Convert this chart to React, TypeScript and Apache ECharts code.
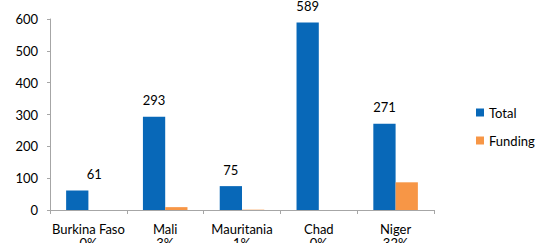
import React, { useEffect, useRef } from "react";
import * as echarts from "echarts";

const categories = ["Burkina Faso", "Mali", "Mauritania", "Chad", "Niger"];
const percentLabels = ["0%", "3%", "1%", "0%", "32%"];
const totalValues = [61, 293, 75, 589, 271];
const fundingValues = [0, 9, 1, 0, 87];
const yTicks = [0, 100, 200, 300, 400, 500, 600];

const FONT = "Lato, 'Liberation Sans', sans-serif";

export default function App() {
  const ref = useRef<HTMLDivElement>(null);
  useEffect(() => {
    document.body.style.margin = "0";
    const chart = echarts.init(ref.current!, null, { renderer: "svg" });
    chart.setOption({
      animation: false,
      textStyle: { fontFamily: FONT },
      grid: {
        left: 50,
        right: 103,
        top: 19,
        bottom: 33,
        containLabel: false,
        outerBoundsMode: "none",
      },
      legend: {
        orient: "vertical",
        left: 471,
        top: 101,
        itemWidth: 8,
        itemHeight: 8,
        itemGap: 15,
        icon: "rect",
        textStyle: { fontFamily: FONT, fontSize: 13, color: "#000" },
        data: ["Total", "Funding"],
      },
      xAxis: {
        type: "category",
        data: categories.map((c, i) => c + "\n" + percentLabels[i]),
        axisLine: { lineStyle: { color: "#A6A6A6", width: 1 } },
        axisTick: { show: true, length: 4, lineStyle: { color: "#A6A6A6" } },
        axisLabel: {
          interval: 0,
          margin: 12,
          fontSize: 13,
          lineHeight: 14,
          color: "#000",
          fontFamily: FONT,
        },
      },
      yAxis: {
        type: "value",
        min: yTicks[0],
        max: yTicks[yTicks.length - 1],
        interval: 100,
        splitLine: { show: false },
        axisLine: { show: true, lineStyle: { color: "#A6A6A6", width: 1 } },
        axisTick: { show: true, length: 3, lineStyle: { color: "#A6A6A6" } },
        axisLabel: { fontSize: 13, color: "#000", margin: 12, fontFamily: FONT },
      },
      series: [
        {
          name: "Total",
          type: "bar",
          data: totalValues.map((v, i) =>
            i === 0 ? { value: v, label: { offset: [17, 0] } } : v
          ),
          barGap: "0%",
          barCategoryGap: "42%",
          itemStyle: { color: "#0868B8" },
          label: {
            show: true,
            position: "top",
            distance: 10,
            fontSize: 13,
            color: "#000",
            fontFamily: FONT,
          },
        },
        {
          name: "Funding",
          type: "bar",
          data: fundingValues,
          itemStyle: { color: "#F79646" },
        },
      ],
    });
    return () => chart.dispose();
  }, []);
  return <div ref={ref} style={{ width: 537, height: 243 }} />;
}
